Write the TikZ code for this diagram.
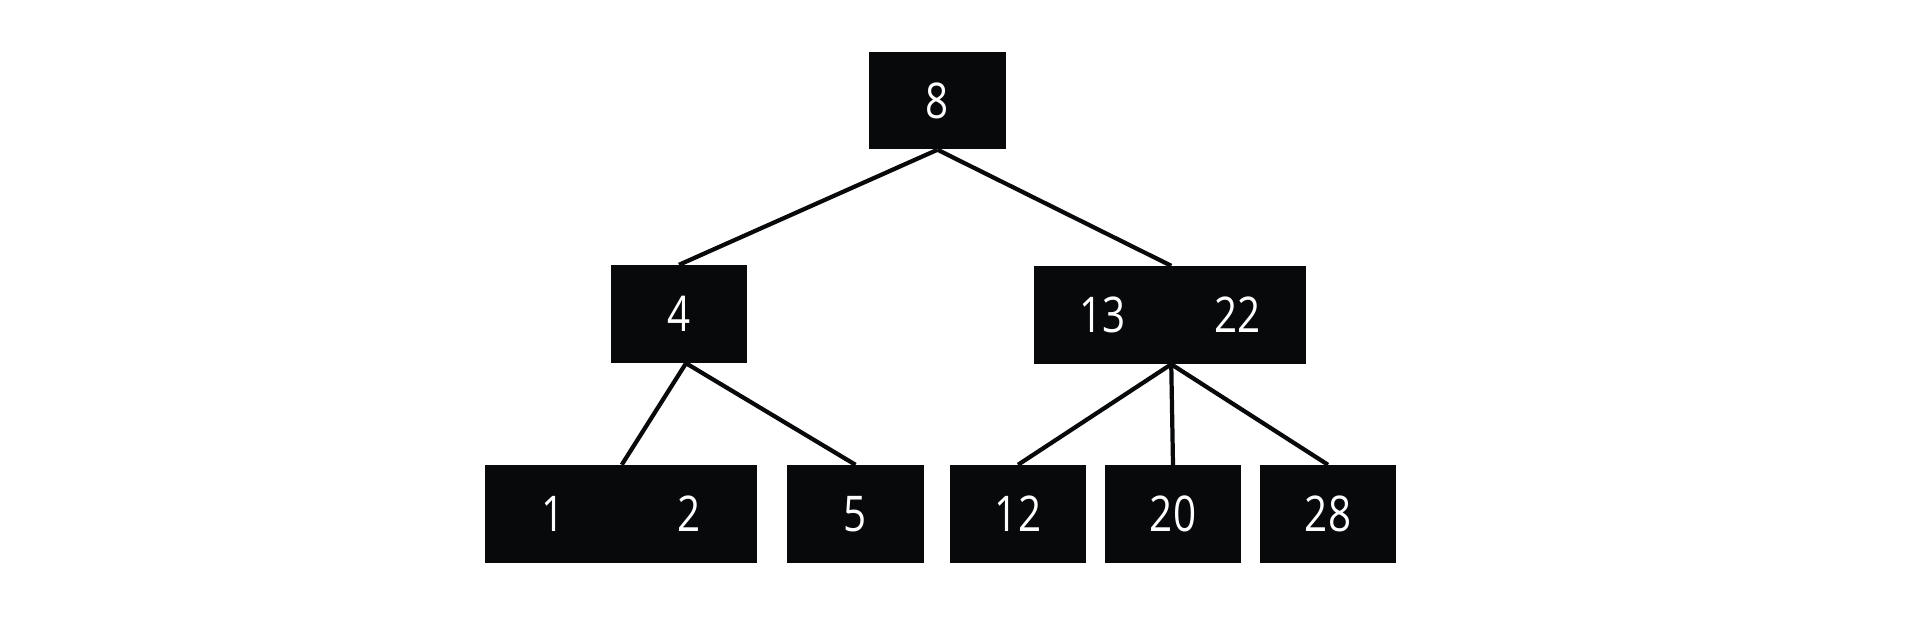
\documentclass[tikz,border=0pt]{standalone}
\usepackage{fontspec}
\setmainfont[FakeStretch=0.82]{Open Sans}
\definecolor{boxblack}{HTML}{08090B}

\begin{document}
\begin{tikzpicture}[x=0.01cm,y=-0.01cm,font=\fontsize{14}{16}\selectfont,
  keybox/.style={fill=boxblack,text=white,minimum width=1.36cm,minimum height=0.97cm,inner sep=0pt},
  link/.style={draw=boxblack,line width=1.2pt}]
\useasboundingbox (0,0) rectangle (1912,629);
% root
\node[keybox] (root) at (937.5,100.5) {8};
% middle level
\node[keybox] (k4) at (679,314) {4};
\node[keybox] (k13) at (1102.5,315) {13};
\node[keybox] (k22) at (1237.5,315) {22};
% leaves
\node[keybox] (k1) at (553,514) {1};
\node[keybox] (k2) at (689,514) {2};
\node[keybox] (k5) at (855.5,514) {5};
\node[keybox] (k12) at (1018,514) {12};
\node[keybox] (k20) at (1173,514) {20};
\node[keybox] (k28) at (1328,514) {28};
% links
\draw[link] (root.south) -- (k4.north);
\draw[link] (root.south) -- (k13.north east);
\draw[link] ([xshift=0.07cm]k4.south) -- (k1.north east);
\draw[link] ([xshift=0.07cm]k4.south) -- (k5.north);
\draw[link] (k13.south east) -- (k12.north);
\draw[link] (k13.south east) -- (k20.north);
\draw[link] (k13.south east) -- (k28.north);
\end{tikzpicture}
\end{document}
